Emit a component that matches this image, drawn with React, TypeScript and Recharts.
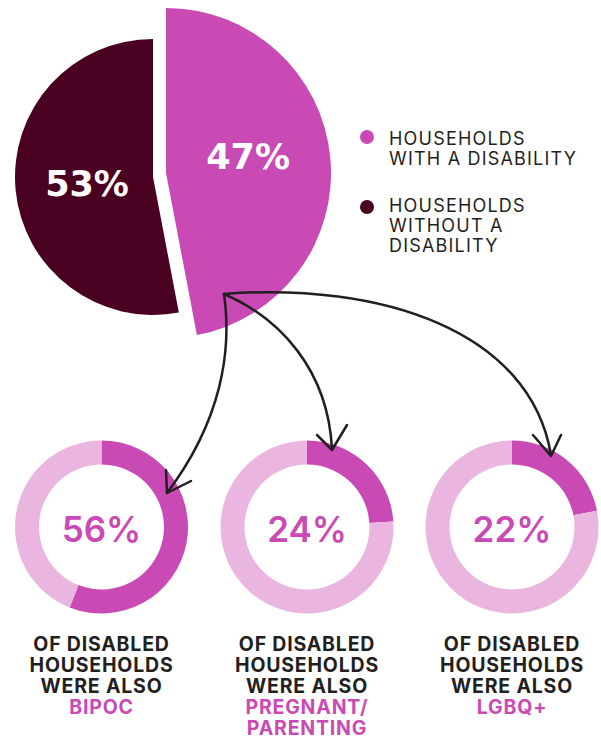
import { PieChart, Pie, Cell } from 'recharts';

// top pie
const householdGroups = ['Households with a disability', 'Households without a disability'];
const householdShares = [47, 53];
const legendLines = [
  ['HOUSEHOLDS', 'WITH A DISABILITY'],
  ['HOUSEHOLDS', 'WITHOUT A', 'DISABILITY'],
];

// small donuts: share of disabled households
const subgroupLines = [['BIPOC'], ['PREGNANT/', 'PARENTING'], ['LGBQ+']];
const subgroupShares = [56, 24, 22];

const MAGENTA = '#C94AB5';
const MAROON = '#4A0020';
const PINK = '#EAB6E0';
const INK = '#231F20';

const RAD = Math.PI / 180;

const mainData = householdGroups.map((name, i) => ({ name, value: householdShares[i] }));

function sliceLabel(only: number, factor: number, shift: number) {
  return (p: any) => {
    if (p.index !== only) return null;
    const r = p.outerRadius * factor;
    const x = p.cx + r * Math.cos(-p.midAngle * RAD);
    const y = p.cy + r * Math.sin(-p.midAngle * RAD) + shift;
    return (
      <text
        x={x}
        y={y + 13}
        textAnchor="middle"
        fill="#fff"
        fontFamily="'DejaVu Sans', sans-serif"
        fontWeight={700}
        fontSize={35}
      >
        {`${p.value}%`}
      </text>
    );
  };
}

// percentage written in the hole of each donut
const centerLabel = (p: any) =>
  p.index === 0 ? (
    <text
      x={p.cx}
      y={p.cy + 15}
      textAnchor="middle"
      fill={MAGENTA}
      fontFamily="Inter, sans-serif"
      fontWeight={600}
      fontSize={35}
    >
      {`${p.value}%`}
    </text>
  ) : null;

const donutX = [101.5, 307, 512];
const donutY = 527;

export default function App() {
  return (
    <div style={{ position: 'absolute', left: 0, top: 0, width: 601, height: 738, background: '#fff' }}>
      <PieChart width={601} height={738} margin={{ top: 0, right: 0, bottom: 0, left: 0 }}>
        <Pie
          data={mainData}
          dataKey="value"
          cx={153}
          cy={177}
          outerRadius={138}
          startAngle={90}
          endAngle={-270}
          stroke="none"
          labelLine={false}
          label={sliceLabel(1, 0.48, 0)}
          isAnimationActive={false}
        >
          {mainData.map((d, i) => (
            <Cell key={d.name} fill={i === 1 ? MAROON : 'none'} />
          ))}
        </Pie>
        <Pie
          data={mainData}
          dataKey="value"
          cx={166}
          cy={173}
          outerRadius={165}
          startAngle={90}
          endAngle={-270}
          stroke="none"
          labelLine={false}
          label={sliceLabel(0, 0.5, -9)}
          isAnimationActive={false}
        >
          {mainData.map((d, i) => (
            <Cell key={d.name} fill={i === 0 ? MAGENTA : 'none'} />
          ))}
        </Pie>
        {subgroupShares.map((v, i) => (
          <Pie
            key={i}
            data={[{ name: 'yes', value: v }, { name: 'no', value: 100 - v }]}
            dataKey="value"
            cx={donutX[i]}
            cy={donutY}
            innerRadius={62.5}
            outerRadius={86.5}
            startAngle={90}
            endAngle={-270}
            stroke="none"
            labelLine={false}
            label={centerLabel}
            isAnimationActive={false}
          >
            <Cell fill={MAGENTA} />
            <Cell fill={PINK} />
          </Pie>
        ))}
      </PieChart>

      {/* legend */}
      {legendLines.map((lines, i) => (
        <div key={i}>
          <div
            style={{
              position: 'absolute',
              left: 360,
              top: i === 0 ? 130 : 200,
              width: 14,
              height: 14,
              borderRadius: '50%',
              background: i === 0 ? MAGENTA : MAROON,
            }}
          />
          <div
            style={{
              position: 'absolute',
              left: 389,
              top: i === 0 ? 128.5 : 195.5,
              fontFamily: 'Inter, sans-serif',
              fontSize: 18,
              lineHeight: '20px',
              letterSpacing: 1.2,
              color: INK,
              whiteSpace: 'nowrap',
            }}
          >
            {lines.map((l) => (
              <div key={l}>{l}</div>
            ))}
          </div>
        </div>
      ))}

      {/* captions under donuts */}
      {subgroupLines.map((lines, i) => (
        <div
          key={i}
          style={{
            position: 'absolute',
            left: donutX[i] - 100,
            top: 634,
            width: 200,
            textAlign: 'center',
            fontFamily: 'Inter, sans-serif',
            fontWeight: 700,
            fontSize: 19.5,
            lineHeight: '21px',
            letterSpacing: 0.8,
            color: INK,
          }}
        >
          <div>OF DISABLED</div>
          <div>HOUSEHOLDS</div>
          <div>WERE ALSO</div>
          {lines.map((l) => (
            <div key={l} style={{ color: MAGENTA }}>
              {l}
            </div>
          ))}
        </div>
      ))}

      {/* hand-drawn arrows */}
      <svg
        width={601}
        height={738}
        style={{ position: 'absolute', left: 0, top: 0, pointerEvents: 'none' }}
        fill="none"
        stroke={INK}
        strokeWidth={2.5}
        strokeLinecap="round"
        strokeLinejoin="round"
      >
        <path d="M224,294 C232,350 222,420 167,493" />
        <path d="M166,470 L167,493 L191,481" />
        <path d="M224,294 C280,318 328,370 332,449" />
        <path d="M317,435 L332,450 L347,425" />
        <path d="M224,294 C380,282 530,330 551,455" />
        <path d="M533,435 L551,456 L561,435" />
      </svg>
    </div>
  );
}
